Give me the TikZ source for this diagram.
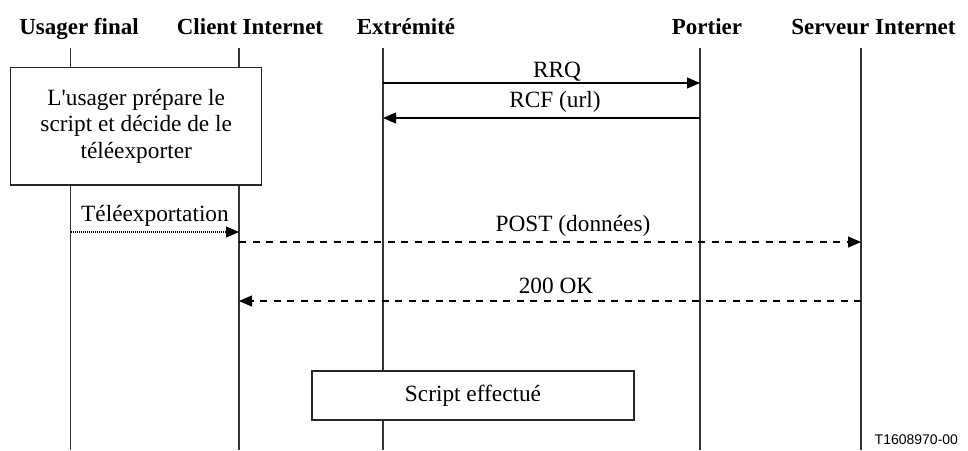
\documentclass[tikz,border=0pt]{standalone}
\usepackage{fontspec}
\setmainfont{Liberation Serif}
\newfontfamily\tagfont{Liberation Sans}
\usetikzlibrary{arrows.meta}
\begin{document}
\begin{tikzpicture}[x=1pt,y=-1pt,
  every node/.style={inner sep=0pt,outer sep=0pt},
  hdr/.style={font=\fontsize{23}{27}\selectfont\bfseries,anchor=base},
  lbl/.style={font=\fontsize{23.3}{27}\selectfont,anchor=base},
  life/.style={line width=1.1pt,draw=black!80},
  actbox/.style={draw=black!85,line width=1.1pt,fill=white,align=center,font=\fontsize{23.3}{26.5}\selectfont},
  msg/.style={line width=1.1pt,-{Triangle[length=13pt,width=11pt]}},
  dmsg/.style={msg,dash pattern=on 7pt off 6.5pt},
  dotmsg/.style={msg,dash pattern=on 1pt off 1pt}]
\useasboundingbox (0,0) rectangle (968,450);
% headers
\node[hdr] (hU) at (79,34) {Usager final};
\node[hdr] (hC) at (250,34) {Client Internet};
\node[hdr] (hE) at (406,34) {Extrémité};
\node[hdr] (hP) at (707,34) {Portier};
\node[hdr] (hS) at (873.5,34) {Serveur Internet};
% lifeline ends
\foreach \n/\x in {U/70.7,C/239,E/383,P/700,S/861}{
  \coordinate (t\n) at (\x,48);
  \coordinate (b\n) at (\x,450);
  \draw[life] (t\n) -- (b\n);
}
% boxes
\node[actbox,minimum width=251pt,minimum height=117.7pt] (box1) at (136.2,126.1)
  {L\textquotesingle usager prépare le\\script et décide de le\\téléexporter};
\node[actbox,minimum width=322pt,minimum height=49pt] (box2) at (473,395.5) {Script effectué};
% message coordinates
\coordinate (e1) at (383,83); \coordinate (p1) at (700,83);
\coordinate (e2) at (383,118); \coordinate (p2) at (700,118);
\coordinate (u3) at (70.7,232); \coordinate (c3) at (239,232);
\coordinate (c4) at (239,242); \coordinate (s4) at (861,242);
\coordinate (c5) at (239,301); \coordinate (s5) at (861,301);
\draw[msg] (e1) -- (p1);
\draw[msg] (p2) -- (e2);
\draw[dotmsg] (u3) -- (c3);
\draw[dmsg] (c4) -- (s4);
\draw[dmsg] (s5) -- (c5);
% labels
\node[lbl] (lRRQ) at (557,77) {RRQ};
\node[lbl] (lRCF) at (555,107) {RCF (url)};
\node[lbl] (lTel) at (155,221.7) {Téléexportation};
\node[lbl] (lPOST) at (573,231) {POST (données)};
\node[lbl] (lOK) at (556,293) {200 OK};
\node[font=\tagfont\fontsize{14}{16}\selectfont,anchor=base east] (tag) at (958,444) {T1608970-00};
\end{tikzpicture}
\end{document}
